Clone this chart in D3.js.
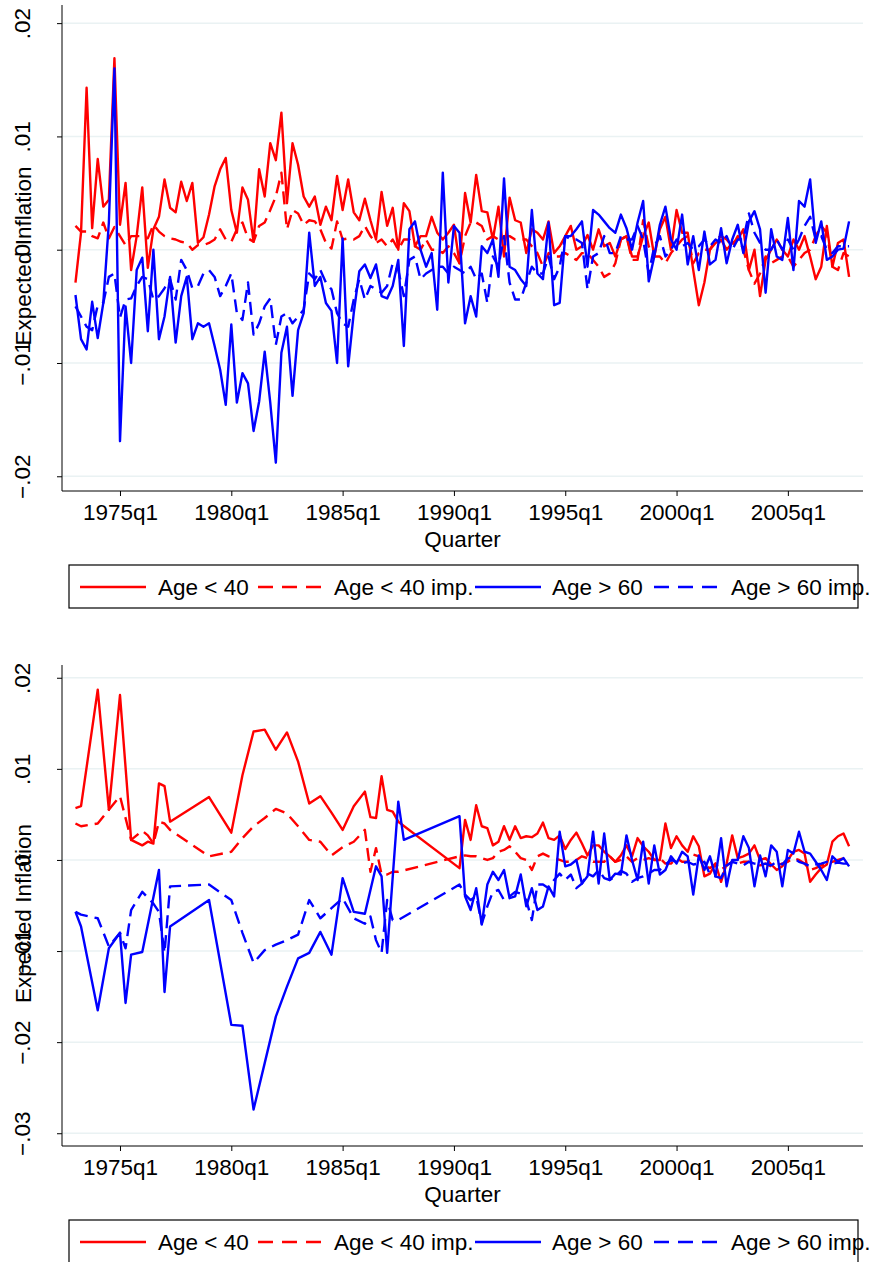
<!DOCTYPE html>
<html lang="en">
<head>
    <meta charset="UTF-8">
    <title>Expected Inflation by Age Group</title>
    <script src="https://cdn.jsdelivr.net/npm/d3@7"></script>
    <style>
        body { margin: 0; background: #fff; }
        svg text { font-family: "Liberation Sans", Arial, Helvetica, sans-serif; fill: #000; }
    </style>
</head>
<body>
    <div id="chart-space"></div>

    <script>
        // quarters are Stata %tq numbers (1960q1 = 0); data run 1973q1 .. 2007q4
        var firstQuarter = 52;
        var lastQuarter = 191;
        var tickQuarters = [60, 80, 100, 120, 140, 160, 180];
        var seriesNames = ["Age < 40", "Age < 40 imp.", "Age > 60", "Age > 60 imp."];

        // ---- top panel, one value per quarter ----
        var topYoung = [
            -0.0029, 0.0015, 0.0143, 0.0019, 0.0080, 0.0038, 0.0044, 0.0169, 0.0022, 0.0059,
            -0.0018, 0.0012, 0.0055, -0.0016, 0.0018, 0.0029, 0.0062, 0.0037, 0.0033, 0.0060,
            0.0043, 0.0059, 0.0006, 0.0011, 0.0031, 0.0056, 0.0071, 0.0081, 0.0035, 0.0015,
            0.0055, 0.0044, 0.0007, 0.0071, 0.0047, 0.0094, 0.0079, 0.0121, 0.0041, 0.0094,
            0.0075, 0.0047, 0.0038, 0.0047, 0.0022, 0.0038, 0.0026, 0.0065, 0.0035, 0.0062,
            0.0033, 0.0026, 0.0045, 0.0026, 0.0009, 0.0051, 0.0021, 0.0037, 0.0000, 0.0041,
            0.0034, 0.0003, 0.0012, 0.0012, 0.0029, 0.0015, 0.0009, 0.0015, 0.0022, -0.0012,
            0.0050, 0.0024, 0.0066, 0.0034, 0.0033, 0.0009, 0.0038, -0.0006, 0.0046, 0.0026,
            0.0024, -0.0003, 0.0018, 0.0015, 0.0009, 0.0025, -0.0003, 0.0003, 0.0012, 0.0021,
            0.0000, 0.0003, 0.0013, 0.0000, 0.0018, 0.0003, 0.0006, -0.0006, 0.0009, 0.0012,
            -0.0006, -0.0006, 0.0012, 0.0024, -0.0006, 0.0018, 0.0029, 0.0000, 0.0035, 0.0015,
            0.0015, -0.0018, -0.0049, -0.0029, 0.0000, 0.0006, 0.0009, 0.0000, 0.0006, 0.0009,
            0.0018, -0.0018, 0.0000, -0.0041, -0.0009, 0.0000, 0.0009, 0.0000, -0.0006, 0.0009,
            0.0000, 0.0012, -0.0006, -0.0026, -0.0015, 0.0021, -0.0015, 0.0006, 0.0009, -0.0024
        ];
        var topYoungImp = [
            0.0021, 0.0016, 0.0016, 0.0012, 0.0010, 0.0024, 0.0010, 0.0020, 0.0012, 0.0004,
            0.0012, 0.0012, 0.0012, 0.0010, 0.0022, 0.0016, 0.0012, 0.0010, 0.0009, 0.0007,
            0.0006, 0.0000, 0.0004, 0.0004, 0.0006, 0.0009, 0.0018, 0.0009, 0.0007, 0.0018,
            0.0024, 0.0010, 0.0007, 0.0021, 0.0024, 0.0035, 0.0047, 0.0068, 0.0018, 0.0035,
            0.0032, 0.0022, 0.0026, 0.0025, 0.0018, 0.0006, 0.0001, 0.0025, 0.0009, 0.0010,
            0.0009, 0.0012, 0.0021, 0.0012, 0.0006, 0.0009, 0.0003, 0.0009, 0.0000, 0.0009,
            0.0009, 0.0003, 0.0000, 0.0009, 0.0000, 0.0000, -0.0003, 0.0003, -0.0003, -0.0012,
            0.0012, 0.0024, 0.0024, 0.0021, 0.0009, 0.0012, 0.0009, 0.0012, 0.0012, 0.0009,
            0.0009, 0.0009, 0.0003, -0.0003, -0.0015, -0.0003, -0.0006, -0.0006, -0.0003, -0.0006,
            -0.0009, -0.0003, -0.0003, -0.0009, -0.0015, -0.0024, -0.0021, -0.0012, 0.0009, 0.0012,
            -0.0009, -0.0009, 0.0026, 0.0003, -0.0006, -0.0006, -0.0012, -0.0003, 0.0003, 0.0009,
            0.0012, -0.0012, -0.0003, 0.0000, 0.0000, 0.0009, 0.0012, 0.0009, 0.0003, 0.0012,
            0.0000, -0.0018, -0.0030, -0.0021, -0.0006, -0.0012, -0.0009, -0.0006, -0.0006, -0.0015,
            -0.0009, -0.0003, 0.0000, 0.0012, 0.0021, 0.0015, -0.0015, -0.0018, -0.0003, -0.0006
        ];
        var topOld = [
            -0.0040, -0.0079, -0.0088, -0.0046, -0.0078, -0.0047, 0.0024, 0.0160, -0.0169, -0.0050,
            -0.0100, -0.0018, -0.0007, -0.0072, 0.0000, -0.0079, -0.0059, -0.0024, -0.0082, -0.0041,
            -0.0024, -0.0079, -0.0065, -0.0068, -0.0065, -0.0085, -0.0106, -0.0137, -0.0066, -0.0135,
            -0.0109, -0.0118, -0.0160, -0.0134, -0.0090, -0.0135, -0.0188, -0.0091, -0.0068, -0.0129,
            -0.0071, -0.0056, 0.0015, -0.0032, -0.0024, -0.0047, -0.0054, -0.0100, 0.0010, -0.0103,
            -0.0056, -0.0019, -0.0013, -0.0025, -0.0013, -0.0041, -0.0043, -0.0032, -0.0009, -0.0085,
            0.0018, 0.0025, 0.0000, -0.0015, -0.0003, -0.0053, 0.0068, -0.0029, 0.0021, 0.0015,
            -0.0065, -0.0041, -0.0059, 0.0003, -0.0003, 0.0009, -0.0024, 0.0063, -0.0015, -0.0018,
            -0.0026, -0.0032, 0.0035, -0.0021, -0.0026, 0.0024, -0.0049, -0.0047, 0.0012, 0.0012,
            0.0018, 0.0025, -0.0015, 0.0035, 0.0031, 0.0025, 0.0019, 0.0015, 0.0031, 0.0019,
            0.0000, 0.0024, 0.0043, -0.0028, -0.0006, 0.0022, 0.0038, 0.0009, 0.0000, 0.0031,
            -0.0013, 0.0012, -0.0018, 0.0016, -0.0013, -0.0009, 0.0019, -0.0012, 0.0009, 0.0022,
            -0.0003, 0.0025, 0.0034, 0.0018, -0.0038, 0.0018, -0.0006, -0.0009, 0.0028, -0.0018,
            0.0043, 0.0038, 0.0062, 0.0006, 0.0025, -0.0009, -0.0006, 0.0000, 0.0001, 0.0025
        ];
        var topOldImp = [
            -0.0050, -0.0059, -0.0068, -0.0071, -0.0049, -0.0047, -0.0024, -0.0021, -0.0060, -0.0044,
            -0.0043, -0.0032, -0.0024, -0.0026, -0.0044, -0.0041, -0.0034, -0.0026, -0.0044, -0.0009,
            -0.0018, -0.0034, -0.0032, -0.0021, -0.0018, -0.0024, -0.0041, -0.0032, -0.0021, -0.0056,
            -0.0062, -0.0029, -0.0075, -0.0065, -0.0050, -0.0043, -0.0084, -0.0059, -0.0056, -0.0065,
            -0.0059, -0.0053, -0.0021, -0.0026, -0.0018, -0.0029, -0.0035, -0.0056, -0.0065, -0.0068,
            -0.0044, -0.0026, -0.0044, -0.0032, -0.0035, -0.0038, -0.0032, -0.0012, -0.0018, -0.0041,
            -0.0009, -0.0006, -0.0026, -0.0021, -0.0018, -0.0015, -0.0015, -0.0021, -0.0015, -0.0018,
            -0.0021, -0.0015, -0.0026, -0.0021, -0.0047, -0.0006, -0.0015, 0.0012, -0.0029, -0.0044,
            -0.0044, -0.0029, -0.0015, -0.0021, -0.0021, -0.0006, -0.0026, -0.0015, 0.0012, 0.0009,
            0.0009, 0.0006, -0.0035, -0.0006, -0.0003, 0.0012, -0.0003, -0.0003, 0.0012, 0.0009,
            0.0009, 0.0021, 0.0009, -0.0021, 0.0003, 0.0012, -0.0006, 0.0000, 0.0009, 0.0003,
            0.0006, 0.0000, 0.0003, 0.0009, 0.0003, 0.0009, 0.0006, 0.0012, 0.0000, 0.0009,
            0.0009, 0.0032, 0.0015, 0.0006, 0.0000, 0.0000, 0.0009, 0.0000, 0.0009, 0.0000,
            0.0009, 0.0021, 0.0029, 0.0009, 0.0012, 0.0000, -0.0003, 0.0003, 0.0003, 0.0003
        ];

        // ---- bottom panel, null = no observation that quarter ----
        var botYoung = [
            0.0057, 0.0059, null, null, 0.0187, null, 0.0055, null, 0.0181, null,
            0.0022, null, 0.0016, 0.0020, 0.0018, 0.0084, 0.0081, 0.0042, null, null,
            null, null, null, null, 0.0069, null, null, null, 0.0030, null,
            0.0093, null, 0.0141, null, 0.0143, null, 0.0121, null, 0.0140, null,
            0.0108, null, 0.0062, null, 0.0070, null, 0.0052, null, 0.0033, null,
            0.0059, null, 0.0075, 0.0047, 0.0046, 0.0092, 0.0055, 0.0053, 0.0042, null,
            null, null, null, null, null, null, null, null, null, -0.0009,
            0.0044, 0.0022, 0.0060, 0.0037, 0.0035, 0.0016, 0.0020, 0.0037, 0.0022, 0.0037,
            0.0024, 0.0026, 0.0025, 0.0029, 0.0041, 0.0024, 0.0022, 0.0027, 0.0012, 0.0022,
            0.0030, 0.0018, 0.0005, 0.0016, 0.0016, 0.0009, 0.0004, -0.0002, 0.0005, 0.0016,
            0.0004, 0.0024, 0.0015, 0.0009, 0.0000, 0.0000, 0.0040, 0.0013, 0.0026, 0.0016,
            0.0009, 0.0026, 0.0015, -0.0018, -0.0015, -0.0004, -0.0024, -0.0004, 0.0027, 0.0002,
            0.0004, 0.0007, 0.0016, 0.0000, 0.0002, -0.0005, -0.0011, -0.0007, 0.0000, 0.0009,
            0.0011, 0.0007, -0.0024, -0.0016, -0.0009, -0.0005, 0.0020, 0.0026, 0.0029, 0.0015
        ];
        var botYoungImp = [
            0.0040, 0.0037, null, null, 0.0040, null, 0.0055, null, 0.0070, null,
            0.0022, null, 0.0032, 0.0027, 0.0018, 0.0042, 0.0040, 0.0033, null, null,
            null, null, null, null, 0.0004, null, null, null, 0.0009, null,
            0.0024, null, 0.0037, null, 0.0046, null, 0.0056, null, 0.0051, null,
            0.0037, null, 0.0022, null, 0.0020, null, 0.0005, null, 0.0014, null,
            0.0020, null, 0.0033, -0.0013, 0.0013, -0.0016, -0.0016, -0.0013, -0.0013, null,
            null, null, null, null, null, null, null, null, null, 0.0004,
            0.0005, 0.0004, 0.0004, 0.0002, 0.0000, 0.0002, 0.0009, 0.0011, 0.0015, 0.0009,
            0.0002, 0.0000, -0.0011, 0.0004, 0.0007, 0.0004, 0.0002, 0.0000, -0.0002, -0.0002,
            0.0000, 0.0004, 0.0002, -0.0002, -0.0002, -0.0002, 0.0004, -0.0002, 0.0000, 0.0004,
            -0.0002, 0.0002, 0.0000, 0.0002, 0.0000, 0.0002, -0.0004, -0.0004, 0.0002, -0.0002,
            -0.0002, 0.0006, 0.0004, -0.0006, -0.0009, -0.0004, -0.0011, -0.0006, -0.0002, -0.0004,
            -0.0002, -0.0002, -0.0004, -0.0006, -0.0004, -0.0007, -0.0006, -0.0004, -0.0002, 0.0002,
            0.0000, -0.0004, -0.0011, -0.0009, -0.0006, -0.0004, -0.0002, 0.0000, 0.0002, 0.0000
        ];
        var botOld = [
            -0.0057, -0.0073, null, null, -0.0165, null, -0.0097, null, -0.0080, -0.0157,
            -0.0104, null, -0.0101, null, null, -0.0011, -0.0145, -0.0073, null, null,
            null, null, null, null, -0.0044, null, null, null, -0.0181, null,
            -0.0182, null, -0.0274, null, -0.0223, null, -0.0172, null, -0.0139, null,
            -0.0108, null, -0.0102, null, -0.0079, null, -0.0104, null, -0.0020, null,
            -0.0057, null, -0.0059, -0.0033, -0.0007, -0.0018, -0.0102, null, 0.0064, 0.0022,
            null, null, null, null, null, null, null, null, null, 0.0048,
            -0.0040, -0.0055, -0.0031, -0.0071, -0.0027, -0.0013, -0.0022, -0.0011, -0.0042, -0.0040,
            -0.0016, -0.0051, -0.0031, -0.0055, -0.0051, -0.0029, -0.0040, 0.0031, -0.0007, -0.0005,
            0.0000, -0.0026, -0.0018, 0.0031, -0.0026, 0.0029, -0.0022, -0.0015, -0.0016, 0.0027,
            0.0000, -0.0022, 0.0020, -0.0026, 0.0016, -0.0016, -0.0011, 0.0004, -0.0004, 0.0009,
            0.0004, -0.0038, 0.0005, -0.0011, 0.0004, -0.0018, 0.0024, -0.0029, 0.0000, 0.0000,
            0.0026, 0.0013, -0.0029, 0.0005, -0.0018, 0.0016, 0.0009, -0.0029, 0.0011, 0.0007,
            0.0031, 0.0009, 0.0007, -0.0002, -0.0011, -0.0022, 0.0004, -0.0002, 0.0002, -0.0007
        ];
        var botOldImp = [
            -0.0057, -0.0060, null, null, -0.0064, null, -0.0095, null, -0.0080, -0.0097,
            -0.0055, null, -0.0035, null, -0.0048, -0.0057, -0.0102, -0.0029, null, null,
            null, null, null, null, -0.0027, null, null, null, -0.0044, null,
            -0.0080, null, -0.0113, null, -0.0099, null, -0.0093, null, -0.0088, null,
            -0.0082, null, -0.0044, null, -0.0064, null, -0.0053, null, -0.0042, null,
            -0.0064, null, -0.0070, -0.0062, -0.0088, -0.0102, -0.0044, -0.0066, -0.0066, null,
            null, null, null, null, null, null, null, null, null, -0.0027,
            -0.0038, -0.0044, -0.0040, -0.0070, -0.0051, -0.0035, -0.0033, -0.0044, -0.0040, -0.0035,
            -0.0037, -0.0044, -0.0066, -0.0027, -0.0027, -0.0031, -0.0022, -0.0015, -0.0022, -0.0016,
            -0.0031, -0.0026, -0.0015, -0.0018, -0.0011, -0.0020, -0.0022, -0.0018, -0.0012, -0.0015,
            -0.0024, -0.0020, -0.0018, -0.0015, -0.0011, -0.0011, -0.0005, 0.0000, -0.0002, -0.0004,
            -0.0002, -0.0005, -0.0004, -0.0002, -0.0016, -0.0018, -0.0020, -0.0006, -0.0002, -0.0004,
            -0.0006, -0.0002, -0.0004, -0.0005, -0.0004, -0.0006, -0.0002, -0.0005, 0.0002, 0.0002,
            -0.0002, -0.0004, -0.0007, -0.0005, -0.0004, -0.0002, -0.0004, -0.0003, -0.0004, -0.0004
        ];

        var topTicks = [0.02, 0.01, 0, -0.01, -0.02];
        var topTickLabels = [".02", ".01", "0", "\u2212.01", "\u2212.02"];
        var botTicks = [0.02, 0.01, 0, -0.01, -0.02, -0.03];
        var botTickLabels = [".02", ".01", "0", "\u2212.01", "\u2212.02", "\u2212.03"];

        var width = 872;
        var height = 1262;
        var red = "#ff0000";
        var blue = "#0000ff";
        var dash = "13,7";
        var gridColor = "#eaf2f3";
        var fontSize = "22.5px";

        var quarters = d3.range(firstQuarter, lastQuarter + 1);

        function quarterLabel(q) {
            return (1960 + Math.floor(q / 4)) + "q" + (q % 4 + 1);
        }

        var svg = d3.select("#chart-space")
            .append("svg")
            .attr("width", width)
            .attr("height", height);

        var xScale = d3.scaleLinear()
            .domain([49.58, 193.5])
            .range([62, 863]);

        function drawPanel(top, bottom, yDomain, ticks, tickLabels, series) {
            var yScale = d3.scaleLinear().domain(yDomain).range([bottom, top]);
            var g = svg.append("g");

            // gridlines
            g.selectAll(".grid")
                .data(ticks)
                .join("line")
                .attr("x1", 62).attr("x2", 863)
                .attr("y1", function(d) { return yScale(d); })
                .attr("y2", function(d) { return yScale(d); })
                .attr("stroke", gridColor)
                .attr("stroke-width", 1.5);

            // series
            var line = d3.line()
                .x(function(d) { return xScale(d.q); })
                .y(function(d) { return yScale(d.v); });

            series.forEach(function(s) {
                var pts = [];
                s.values.forEach(function(v, i) {
                    if (v !== null) pts.push({q: quarters[i], v: v});
                });
                g.append("path")
                    .datum(pts)
                    .attr("d", line)
                    .attr("fill", "none")
                    .attr("stroke", s.color)
                    .attr("stroke-width", 2.4)
                    .attr("stroke-linejoin", "round")
                    .attr("stroke-dasharray", s.dashed ? dash : null);
            });

            // y axis
            var yAxis = g.append("g")
                .attr("transform", "translate(62,0)")
                .call(d3.axisLeft(yScale).tickValues(ticks).tickSize(5).tickFormat(function(d, i) { return tickLabels[i]; }));
            yAxis.select(".domain").attr("stroke", "#000").attr("d", "M0," + top + "V" + bottom);
            yAxis.selectAll(".tick line").attr("stroke", "#000");
            yAxis.selectAll(".tick text")
                .attr("x", 0).attr("y", 0).attr("dy", null)
                .attr("text-anchor", "middle")
                .attr("transform", "translate(-32,0) rotate(-90)")
                .style("font-size", fontSize)
                .style("font-family", "'Liberation Sans', Arial, sans-serif");

            g.append("text")
                .attr("transform", "translate(31," + ((top + bottom) / 2 + 8) + ") rotate(-90)")
                .attr("text-anchor", "middle")
                .style("font-size", fontSize)
                .text("Expected Inflation");

            // x axis
            var xAxis = g.append("g")
                .attr("transform", "translate(0," + bottom + ")")
                .call(d3.axisBottom(xScale).tickValues(tickQuarters).tickSize(5).tickFormat(quarterLabel));
            xAxis.select(".domain").attr("stroke", "#000").attr("d", "M62,0H863");
            xAxis.selectAll(".tick line").attr("stroke", "#000");
            xAxis.selectAll(".tick text")
                .attr("y", 13)
                .style("font-size", fontSize)
                .style("font-family", "'Liberation Sans', Arial, sans-serif");

            g.append("text")
                .attr("x", (62 + 863) / 2)
                .attr("y", bottom + 56)
                .attr("text-anchor", "middle")
                .style("font-size", fontSize)
                .text("Quarter");

            // legend
            var ly = bottom + 74;
            g.append("rect")
                .attr("x", 69).attr("y", ly)
                .attr("width", 789).attr("height", 43)
                .attr("fill", "none")
                .attr("stroke", "#000")
                .attr("stroke-width", 1.2);

            var keyX = [80, 258, 475, 654];
            var textX = [158, 334, 552, 731];
            series.forEach(function(s, i) {
                g.append("line")
                    .attr("x1", keyX[i]).attr("x2", keyX[i] + 66)
                    .attr("y1", ly + 22).attr("y2", ly + 22)
                    .attr("stroke", s.color)
                    .attr("stroke-width", 2.4)
                    .attr("stroke-dasharray", s.dashed ? "15,9" : null);
                g.append("text")
                    .attr("x", textX[i])
                    .attr("y", ly + 30)
                    .style("font-size", fontSize)
                    .text(seriesNames[i]);
            });
        }

        drawPanel(5, 491, [-0.0213, 0.0216], topTicks, topTickLabels, [
            {values: topYoung, color: red, dashed: false},
            {values: topYoungImp, color: red, dashed: true},
            {values: topOld, color: blue, dashed: false},
            {values: topOldImp, color: blue, dashed: true}
        ]);

        drawPanel(665, 1146, [-0.0314, 0.0214], botTicks, botTickLabels, [
            {values: botYoung, color: red, dashed: false},
            {values: botYoungImp, color: red, dashed: true},
            {values: botOld, color: blue, dashed: false},
            {values: botOldImp, color: blue, dashed: true}
        ]);
    </script>
</body>
</html>
